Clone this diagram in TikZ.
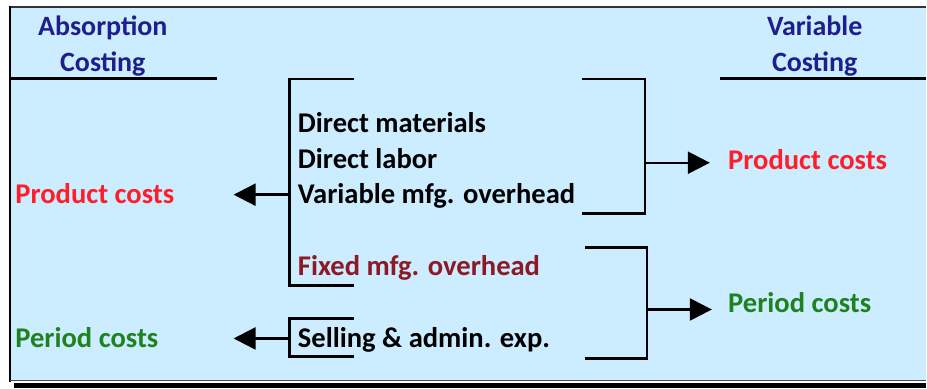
\documentclass[tikz,border=0pt]{standalone}
\usepackage{fontspec}
\setmainfont{Carlito}
\usetikzlibrary{arrows.meta}
\definecolor{panelblue}{RGB}{204,236,255}
\definecolor{titleblue}{RGB}{30,30,140}
\definecolor{prodred}{RGB}{255,30,40}
\definecolor{pergreen}{RGB}{30,130,30}
\definecolor{fixedred}{RGB}{140,25,35}
\tikzset{
  txt/.style={inner sep=0pt,anchor=base west,font=\fontsize{14.3}{18}\selectfont\bfseries},
  title/.style={inner sep=0pt,align=center,text=titleblue,font=\fontsize{14}{18}\selectfont\bfseries},
  brk/.style={line width=1.2pt},
  arr/.style={line width=1.2pt,-{Triangle[length=11pt,width=11pt]}}
}
\begin{document}
\begin{tikzpicture}[x=0.5pt,y=-0.5pt]
% page and panel
\fill[white] (0,0) rectangle (927,389);
\fill[panelblue] (10,7) rectangle (927,381);
\draw[line width=0.8pt,black!80] (10,7) -- (927,7);
\draw[line width=1.2pt] (10,6) -- (10,383);
\draw[line width=0.8pt,black!70] (10,381) -- (927,381);
\fill[black] (14,384) rectangle (927,389);
% headings
\node[title] (absorb) at (103,46) {Absorption\\Costing};
\node[title] (variab) at (816,46) {Variable\\Costing};
\draw[line width=1.5pt] (10,79) -- (217,79);
\draw[line width=1.5pt] (721,79) -- (927,79);
% cost items
\node[txt] (dm) at (298,133) {Direct materials};
\node[txt] (dl) at (298,169) {Direct labor};
\node[txt] (vo) at (298,204) {Variable mfg. overhead};
\node[txt,text=fixedred] (fo) at (298,276) {Fixed mfg. overhead};
\node[txt] (sa) at (298,348) {Selling \& admin. exp.};
% absorption side
\node[txt,text=prodred] (prodA) at (15,204) {Product costs};
\node[txt,text=pergreen] (perA) at (15,348) {Period costs};
\coordinate (ab1) at (355,79);
\coordinate (ab2) at (290,79);
\coordinate (ab3) at (290,286);
\coordinate (ab4) at (355,286);
\draw[brk] (ab1) -- (ab2) -- (ab3) -- (ab4);
\coordinate (as1) at (355,319);
\coordinate (as2) at (290,319);
\coordinate (as3) at (290,357);
\coordinate (as4) at (355,357);
\draw[brk] (as1) -- (as2) -- (as3) -- (as4);
\coordinate (aprod) at (290,195);
\coordinate (aprodtip) at (234,195);
\draw[arr] (aprod) -- (aprodtip);
\coordinate (aper) at (290,339);
\coordinate (apertip) at (234,339);
\draw[arr] (aper) -- (apertip);
% variable side
\node[txt,text=prodred] (prodV) at (729,170) {Product costs};
\node[txt,text=pergreen] (perV) at (729,313) {Period costs};
\coordinate (vb1) at (583,79);
\coordinate (vb2) at (646,79);
\coordinate (vb3) at (646,214);
\coordinate (vb4) at (583,214);
\draw[brk] (vb1) -- (vb2) -- (vb3) -- (vb4);
\coordinate (vp1) at (586,248);
\coordinate (vp2) at (648,248);
\coordinate (vp3) at (648,359);
\coordinate (vp4) at (586,359);
\draw[brk] (vp1) -- (vp2) -- (vp3) -- (vp4);
\coordinate (vprod) at (646,163);
\coordinate (vprodtip) at (711,163);
\draw[arr] (vprod) -- (vprodtip);
\coordinate (vper) at (648,310);
\coordinate (vpertip) at (713,310);
\draw[arr] (vper) -- (vpertip);
\end{tikzpicture}
\end{document}
